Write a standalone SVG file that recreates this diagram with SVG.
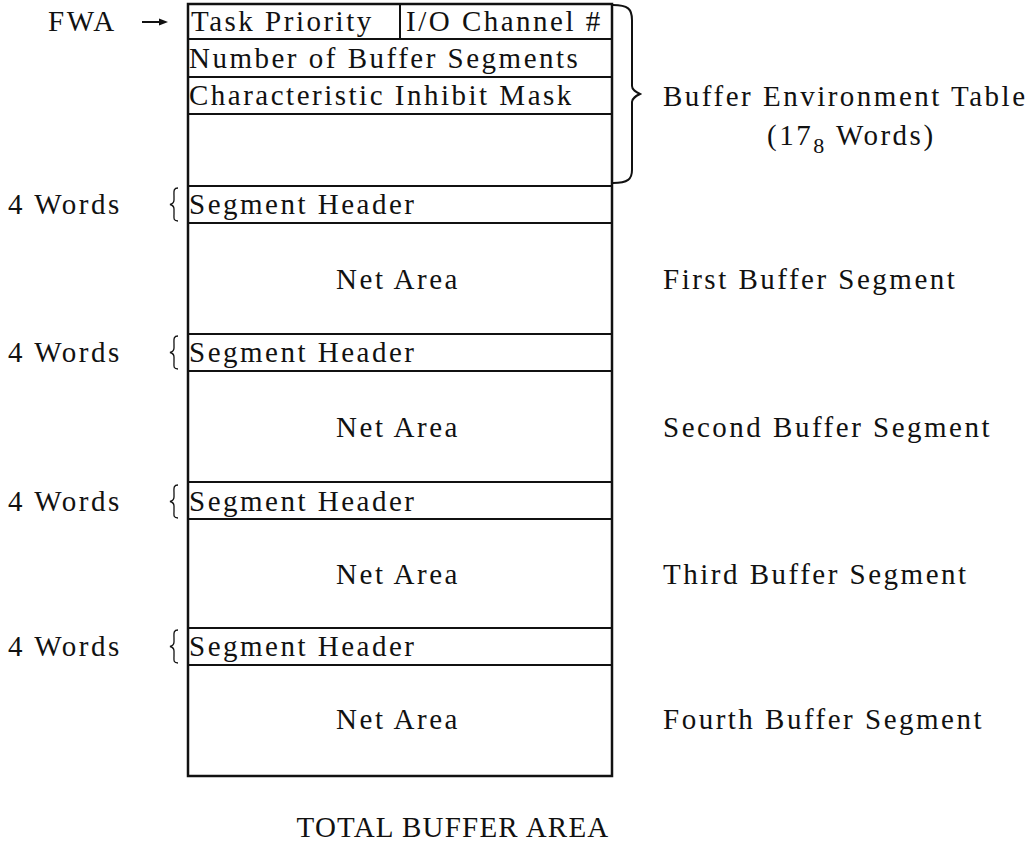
<svg xmlns="http://www.w3.org/2000/svg" width="1035" height="846" viewBox="0 0 1035 846">
<style>
text { font-family: "Liberation Serif", "Times New Roman", serif; font-size: 29px; letter-spacing: 2.5px; fill: #111; }
.mid { text-anchor: middle; }
.sub { font-size: 22px; }
.caps { letter-spacing: 1.2px; }
.rule { stroke: #111; stroke-width: 2; fill: none; }
.frame { stroke: #111; stroke-width: 2.5; fill: none; }
.brace { stroke: #111; stroke-width: 1.3; fill: none; }
.bigbrace { stroke: #111; stroke-width: 2; fill: none; }
</style>
<defs>
<path id="sbrace" d="M178,0 C173,0 174,4 174,8 L174,12 C174,15 172,16 170,16.5 C172,17 174,18 174,21 L174,26 C174,30 173,33 178,33"/>
</defs>
<rect x="0" y="0" width="1035" height="846" fill="#fff"/>

<g id="fwa-label">
<text x="48" y="31">FWA</text>
</g>

<g id="connectors">
<line class="rule" x1="142" y1="22" x2="160" y2="22" stroke-width="1.5"/>
<polygon points="168,22 159,18.5 159,25.5" fill="#111"/>
</g>

<g id="buffer-area">
<rect class="frame" x="188" y="4" width="424" height="772"/>
<g id="bet-row1">
<line class="rule" x1="400" y1="4" x2="400" y2="39"/>
<line class="rule" x1="188" y1="39" x2="612" y2="39"/>
<text x="191" y="31">Task Priority</text>
<text x="406" y="31">I/O Channel #</text>
</g>
<g id="bet-row2">
<line class="rule" x1="188" y1="77" x2="612" y2="77"/>
<text x="189" y="68">Number of Buffer Segments</text>
</g>
<g id="bet-row3">
<line class="rule" x1="188" y1="114" x2="612" y2="114"/>
<text x="189" y="105">Characteristic Inhibit Mask</text>
</g>
<g id="bet-rest">
<line class="rule" x1="188" y1="186" x2="612" y2="186"/>
</g>

<g id="segment-1">
<line class="rule" x1="188" y1="223" x2="612" y2="223"/>
<text x="189" y="214">Segment Header</text>
<text class="mid" x="398" y="289">Net Area</text>
<line class="rule" x1="188" y1="334" x2="612" y2="334"/>
</g>
<g id="segment-2">
<line class="rule" x1="188" y1="371" x2="612" y2="371"/>
<text x="189" y="362">Segment Header</text>
<text class="mid" x="398" y="437">Net Area</text>
<line class="rule" x1="188" y1="482" x2="612" y2="482"/>
</g>
<g id="segment-3">
<line class="rule" x1="188" y1="519" x2="612" y2="519"/>
<text x="189" y="511">Segment Header</text>
<text class="mid" x="398" y="584">Net Area</text>
<line class="rule" x1="188" y1="628" x2="612" y2="628"/>
</g>
<g id="segment-4">
<line class="rule" x1="188" y1="665" x2="612" y2="665"/>
<text x="189" y="656">Segment Header</text>
<text class="mid" x="398" y="729">Net Area</text>
</g>
</g>

<g id="header-sizes">
<text x="8" y="214">4 Words</text>
<use href="#sbrace" class="brace" transform="translate(0,188)"/>
<text x="8" y="362">4 Words</text>
<use href="#sbrace" class="brace" transform="translate(0,336)"/>
<text x="8" y="511">4 Words</text>
<use href="#sbrace" class="brace" transform="translate(0,485)"/>
<text x="8" y="656">4 Words</text>
<use href="#sbrace" class="brace" transform="translate(0,630)"/>
</g>

<g id="bet-label">
<path class="bigbrace" d="M613,5 C628,5 632,9 632,20 L632,86 C632,90 636,92 640,94 C636,96 632,98 632,102 L632,170 C632,179 628,183 613,183"/>
<text x="663" y="106">Buffer Environment Table</text>
<text x="767" y="145">(17<tspan class="sub" dy="8">8</tspan><tspan dy="-8"> Words)</tspan></text>
</g>

<g id="segment-labels">
<text x="663" y="289">First Buffer Segment</text>
<text x="663" y="437">Second Buffer Segment</text>
<text x="663" y="584">Third Buffer Segment</text>
<text x="663" y="729">Fourth Buffer Segment</text>
</g>

<g id="caption">
<text class="mid caps" x="453" y="837">TOTAL BUFFER AREA</text>
</g>
</svg>
